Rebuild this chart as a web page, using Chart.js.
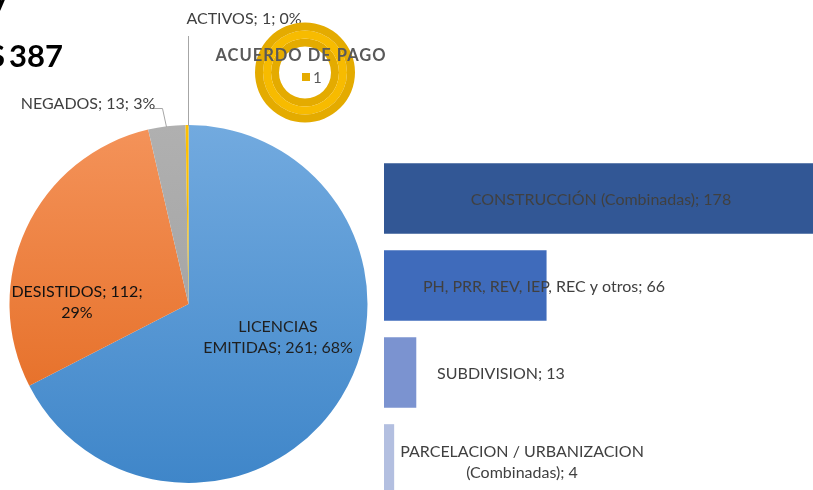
<!DOCTYPE html>
<html>
<head>
<meta charset="utf-8">
<script src="https://cdn.jsdelivr.net/npm/chart.js@4.4.1/dist/chart.umd.min.js"></script>
<style>
    html, body { margin: 0; padding: 0; background: #fff; overflow: hidden; width: 813px; height: 490px; }
    canvas { position: absolute; }
</style>
</head>
<body>
<canvas id="pieChart" width="380" height="490" style="left:0;top:0"></canvas>
<canvas id="pagoChart" width="210" height="145" style="left:200px;top:0"></canvas>
<canvas id="barChart" width="440" height="348" style="left:384px;top:155px"></canvas>
<script>
// estado de solicitudes
const pieLabels = ['LICENCIAS EMITIDAS', 'DESISTIDOS', 'NEGADOS', 'ACTIVOS'];
const pieValues = [261, 112, 13, 1];
const piePercents = [68, 29, 3, 0];
const totalText = ['S', '387'];

// acuerdo de pago
const pagoLabels = ['1'];
const pagoValues = [1];

// licencias emitidas por tipo
const barLabels = ['CONSTRUCCIÓN (Combinadas)', 'PH, PRR, REV, IEP, REC y otros', 'SUBDIVISION', 'PARCELACION / URBANIZACION (Combinadas)'];
const barValues = [178, 66, 13, 4];

const FONT = 'Lato, "Open Sans", sans-serif';

function pieText(i) {
    return pieLabels[i] + '; ' + pieValues[i] + '; ' + piePercents[i] + '%';
}

function vGrad(chart, top, bottom) {
    const area = chart.chartArea;
    if (!area) return top;
    const g = chart.ctx.createLinearGradient(0, area.top, 0, area.bottom);
    g.addColorStop(0, top);
    g.addColorStop(1, bottom);
    return g;
}

const pieLabelPlugin = {
    id: 'pieLabels',
    afterDraw(chart) {
        const ctx = chart.ctx;
        ctx.save();
        // leader lines
        ctx.strokeStyle = '#a6a6a6';
        ctx.lineWidth = 1;
        ctx.beginPath();
        ctx.moveTo(188.5, 36);
        ctx.lineTo(188.5, 126);
        ctx.moveTo(152, 108.5);
        ctx.lineTo(162.5, 108.5);
        ctx.lineTo(166.5, 127);
        ctx.stroke();

        ctx.textAlign = 'center';
        ctx.textBaseline = 'middle';
        ctx.font = '16px ' + FONT;

        const lic = pieText(0).split(' ');
        ctx.fillStyle = '#1f1f1f';
        ctx.fillText(lic[0], 278, 327);
        ctx.fillText(lic.slice(1).join(' '), 278, 348);

        const des = pieText(1);
        const cut = des.lastIndexOf(' ');
        ctx.fillStyle = '#111';
        ctx.fillText(des.slice(0, cut), 77, 292);
        ctx.fillText(des.slice(cut + 1), 77, 313);

        ctx.fillStyle = '#404040';
        ctx.fillText(pieText(2), 88, 104);
        ctx.fillText(pieText(3), 244, 19);

        // total (cortado por el borde)
        ctx.fillStyle = '#000';
        ctx.font = 'bold 31px ' + FONT;
        ctx.textBaseline = 'alphabetic';
        ctx.textAlign = 'right';
        ctx.fillText(totalText[0], 5, 67);
        ctx.fillText('y', 9, 6);
        ctx.textAlign = 'left';
        ctx.fillText(totalText[1], 9, 67);
        ctx.restore();
    }
};

new Chart(document.getElementById('pieChart'), {
    type: 'pie',
    data: {
        labels: pieLabels,
        datasets: [{
            data: pieValues,
            backgroundColor: function(c) {
                const grads = [
                    ['#72aadf', '#3f86c9'],
                    ['#f4935a', '#e2661b'],
                    ['#b0b0b0', '#9c9c9c'],
                    ['#ffc000', '#ffc000']
                ];
                const p = grads[c.dataIndex];
                return vGrad(c.chart, p[0], p[1]);
            },
            borderWidth: 0
        }]
    },
    options: {
        responsive: false,
        animation: false,
        layout: { padding: { left: 9.5, right: 12.5, top: 125, bottom: 7 } },
        plugins: { legend: { display: false }, tooltip: { enabled: false } }
    },
    plugins: [pieLabelPlugin]
});

const pagoPlugin = {
    id: 'pagoText',
    afterDraw(chart) {
        const ctx = chart.ctx;
        ctx.save();
        ctx.fillStyle = '#595959';
        ctx.font = 'bold 16.5px ' + FONT;
        ctx.letterSpacing = '1px';
        ctx.textAlign = 'center';
        ctx.textBaseline = 'middle';
        ctx.fillText('ACUERDO DE PAGO', 101, 56);
        ctx.letterSpacing = '0px';
        ctx.fillStyle = '#e5ab00';
        ctx.fillRect(102, 73, 8, 8);
        ctx.fillStyle = '#595959';
        ctx.font = '15px ' + FONT;
        ctx.textAlign = 'left';
        ctx.fillText(pagoLabels[0], 113, 78);
        ctx.restore();
    }
};

new Chart(document.getElementById('pagoChart'), {
    type: 'doughnut',
    data: {
        labels: pagoLabels,
        datasets: [
            { data: pagoValues, backgroundColor: '#e4ab00', borderWidth: 0 },
            { data: pagoValues, backgroundColor: '#f7bb00', borderWidth: 0 },
            { data: pagoValues, backgroundColor: '#e4ab00', borderWidth: 0 }
        ]
    },
    options: {
        responsive: false,
        animation: false,
        cutout: '52%',
        layout: { padding: { left: 55, right: 55, top: 22.5, bottom: 22.5 } },
        plugins: { legend: { display: false }, tooltip: { enabled: false } }
    },
    plugins: [pagoPlugin]
});

const barLabelPlugin = {
    id: 'barLabels',
    afterDatasetsDraw(chart) {
        const ctx = chart.ctx;
        const meta = chart.getDatasetMeta(0);
        const centers = [217, 160, 117, 138];
        ctx.save();
        ctx.font = '16px ' + FONT;
        ctx.fillStyle = '#404040';
        ctx.textAlign = 'center';
        ctx.textBaseline = 'middle';
        meta.data.forEach(function(bar, i) {
            const txt = barLabels[i] + '; ' + barValues[i];
            if (i === 3) {
                const k = txt.indexOf(' (');
                ctx.fillText(txt.slice(0, k), centers[i], bar.y - 8);
                ctx.fillText(txt.slice(k + 1), centers[i], bar.y + 13);
            } else {
                ctx.fillText(txt, centers[i], bar.y + 1);
            }
        });
        ctx.restore();
    }
};

new Chart(document.getElementById('barChart'), {
    type: 'bar',
    data: {
        labels: barLabels,
        datasets: [{
            data: barValues,
            backgroundColor: ['#325795', '#3f6bbb', '#7b93d0', '#b3bfe0'],
            barThickness: 70,
            borderWidth: 0
        }]
    },
    options: {
        indexAxis: 'y',
        responsive: false,
        animation: false,
        layout: { padding: 0 },
        scales: {
            x: { display: false, min: 0, max: 179 },
            y: { display: false }
        },
        plugins: { legend: { display: false }, tooltip: { enabled: false } }
    },
    plugins: [barLabelPlugin]
});
</script>
</body>
</html>
